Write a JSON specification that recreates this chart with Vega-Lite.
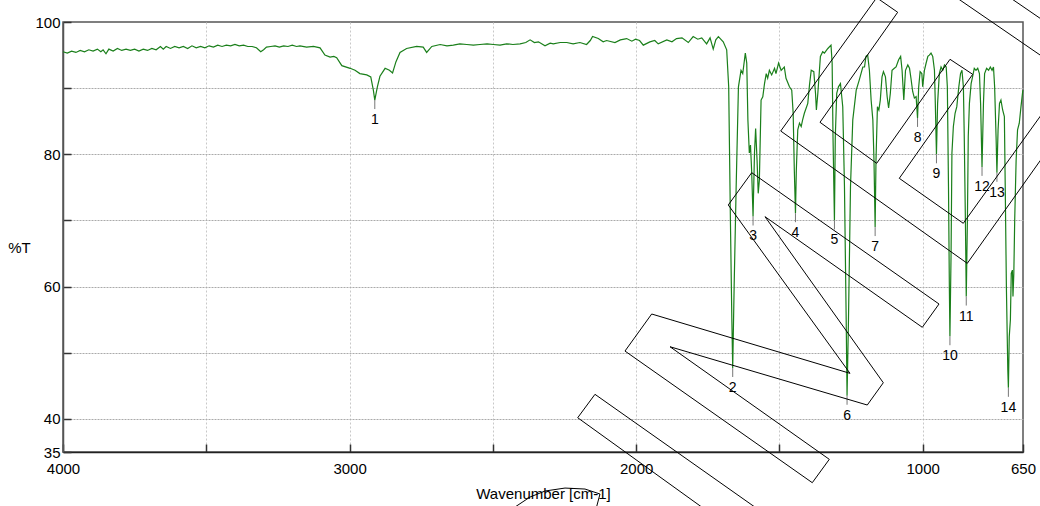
{
  "$schema": "https://vega.github.io/schema/vega-lite/v6.json",
  "width": 960,
  "height": 430,
  "autosize": {"type": "none"},
  "padding": {"left": 63, "top": 22, "right": 17, "bottom": 54},
  "background": "white",
  "config": {
    "view": {"stroke": "#555", "strokeWidth": 1.5},
    "font": "Liberation Sans"
  },
  "datasets": {
    "spec": [
      {"w":4000,"t":95.5},{"w":3985,"t":95.3},{"w":3970,"t":95.6},{"w":3955,"t":95.4},{"w":3940,"t":95.7},{"w":3925,"t":95.5},{"w":3910,"t":95.8},{"w":3895,"t":95.6},{"w":3880,"t":95.9},{"w":3868,"t":95.5},{"w":3860,"t":95.8},{"w":3850,"t":95.2},{"w":3840,"t":95.9},{"w":3825,"t":95.6},{"w":3810,"t":96.0},{"w":3795,"t":95.7},{"w":3780,"t":95.9},{"w":3765,"t":95.7},{"w":3750,"t":95.9},{"w":3735,"t":95.6},{"w":3720,"t":95.9},{"w":3705,"t":95.7},{"w":3690,"t":96.0},{"w":3675,"t":95.8},{"w":3660,"t":96.3},{"w":3650,"t":95.9},{"w":3640,"t":96.3},{"w":3625,"t":96.0},{"w":3610,"t":96.3},{"w":3595,"t":96.1},{"w":3580,"t":96.3},{"w":3565,"t":96.0},{"w":3550,"t":96.4},{"w":3535,"t":96.1},{"w":3520,"t":96.3},{"w":3505,"t":96.1},{"w":3490,"t":96.4},{"w":3475,"t":96.2},{"w":3460,"t":96.5},{"w":3445,"t":96.3},{"w":3430,"t":96.5},{"w":3415,"t":96.4},{"w":3400,"t":96.6},{"w":3385,"t":96.4},{"w":3370,"t":96.5},{"w":3355,"t":96.3},{"w":3340,"t":96.3},{"w":3325,"t":96.1},{"w":3310,"t":95.5},{"w":3300,"t":95.8},{"w":3290,"t":96.2},{"w":3275,"t":96.3},{"w":3260,"t":96.4},{"w":3245,"t":96.2},{"w":3230,"t":96.4},{"w":3215,"t":96.3},{"w":3200,"t":96.5},{"w":3185,"t":96.3},{"w":3173,"t":96.4},{"w":3150,"t":96.2},{"w":3126,"t":96.3},{"w":3103,"t":96.1},{"w":3086,"t":95.0},{"w":3068,"t":94.7},{"w":3055,"t":94.8},{"w":3045,"t":94.6},{"w":3027,"t":93.4},{"w":2998,"t":93.0},{"w":2981,"t":92.7},{"w":2964,"t":92.2},{"w":2940,"t":92.0},{"w":2926,"t":91.7},{"w":2917,"t":89.7},{"w":2912,"t":88.2},{"w":2903,"t":90.2},{"w":2894,"t":91.8},{"w":2876,"t":93.0},{"w":2861,"t":92.7},{"w":2850,"t":92.3},{"w":2838,"t":94.0},{"w":2824,"t":95.4},{"w":2801,"t":96.0},{"w":2766,"t":96.3},{"w":2743,"t":96.2},{"w":2731,"t":95.4},{"w":2713,"t":96.3},{"w":2684,"t":96.6},{"w":2660,"t":96.4},{"w":2638,"t":96.5},{"w":2615,"t":96.7},{"w":2591,"t":96.6},{"w":2568,"t":96.5},{"w":2545,"t":96.6},{"w":2520,"t":96.7},{"w":2498,"t":96.6},{"w":2475,"t":96.5},{"w":2452,"t":96.7},{"w":2430,"t":96.6},{"w":2405,"t":96.7},{"w":2385,"t":96.9},{"w":2370,"t":97.3},{"w":2355,"t":96.9},{"w":2341,"t":97.0},{"w":2318,"t":96.4},{"w":2300,"t":96.8},{"w":2289,"t":96.7},{"w":2265,"t":96.9},{"w":2242,"t":96.9},{"w":2220,"t":96.7},{"w":2196,"t":96.9},{"w":2173,"t":96.6},{"w":2160,"t":97.2},{"w":2152,"t":97.8},{"w":2132,"t":97.5},{"w":2115,"t":97.0},{"w":2103,"t":97.2},{"w":2074,"t":96.9},{"w":2055,"t":97.3},{"w":2033,"t":97.5},{"w":2015,"t":97.1},{"w":2002,"t":97.4},{"w":1988,"t":97.2},{"w":1975,"t":96.5},{"w":1952,"t":97.0},{"w":1935,"t":97.2},{"w":1923,"t":96.7},{"w":1893,"t":97.3},{"w":1875,"t":97.0},{"w":1859,"t":97.5},{"w":1840,"t":97.6},{"w":1818,"t":96.9},{"w":1801,"t":97.8},{"w":1785,"t":97.4},{"w":1771,"t":97.6},{"w":1754,"t":96.7},{"w":1742,"t":97.6},{"w":1731,"t":95.9},{"w":1722,"t":97.3},{"w":1713,"t":97.8},{"w":1696,"t":97.0},{"w":1684,"t":95.8},{"w":1677,"t":90.2},{"w":1671,"t":70},{"w":1666,"t":55},{"w":1663,"t":47.7},{"w":1658,"t":60},{"w":1651,"t":75},{"w":1643,"t":90.2},{"w":1634,"t":92.7},{"w":1628,"t":92.2},{"w":1619,"t":95.3},{"w":1614,"t":93.8},{"w":1610,"t":85.2},{"w":1605,"t":80.2},{"w":1601,"t":81.4},{"w":1597,"t":77.6},{"w":1592,"t":70.6},{"w":1587,"t":80.2},{"w":1583,"t":83.9},{"w":1578,"t":79.1},{"w":1574,"t":74.1},{"w":1570,"t":76.1},{"w":1564,"t":88.2},{"w":1558,"t":88.7},{"w":1552,"t":90.7},{"w":1546,"t":92.2},{"w":1541,"t":91.5},{"w":1535,"t":92.7},{"w":1527,"t":92.0},{"w":1517,"t":93.0},{"w":1512,"t":92.2},{"w":1503,"t":93.8},{"w":1494,"t":92.7},{"w":1483,"t":93.2},{"w":1477,"t":91.5},{"w":1465,"t":90.2},{"w":1457,"t":89.7},{"w":1452,"t":86.2},{"w":1448,"t":77.6},{"w":1444,"t":71.1},{"w":1441,"t":77.6},{"w":1436,"t":83.7},{"w":1430,"t":84.7},{"w":1424,"t":84.2},{"w":1419,"t":85.2},{"w":1413,"t":86.2},{"w":1401,"t":87.7},{"w":1395,"t":90.5},{"w":1389,"t":92.7},{"w":1380,"t":92.5},{"w":1374,"t":89.2},{"w":1371,"t":86.7},{"w":1366,"t":89.2},{"w":1357,"t":94.8},{"w":1349,"t":95.5},{"w":1343,"t":95.3},{"w":1331,"t":96.0},{"w":1320,"t":96.5},{"w":1316,"t":93.8},{"w":1313,"t":82.7},{"w":1308,"t":70.0},{"w":1305,"t":82.7},{"w":1300,"t":89.2},{"w":1294,"t":90.2},{"w":1287,"t":90.7},{"w":1279,"t":87.2},{"w":1273,"t":75.1},{"w":1267,"t":55},{"w":1264,"t":43.5},{"w":1259,"t":55},{"w":1252,"t":75.1},{"w":1244,"t":85.2},{"w":1232,"t":89.7},{"w":1221,"t":91.3},{"w":1209,"t":93.2},{"w":1203,"t":93.2},{"w":1198,"t":94.8},{"w":1192,"t":95.0},{"w":1186,"t":92.7},{"w":1180,"t":88.2},{"w":1174,"t":85.2},{"w":1170,"t":79.1},{"w":1166,"t":69.0},{"w":1163,"t":79.1},{"w":1158,"t":87.2},{"w":1153,"t":86.7},{"w":1148,"t":88.2},{"w":1142,"t":91.7},{"w":1137,"t":92.5},{"w":1130,"t":91.7},{"w":1124,"t":88.7},{"w":1119,"t":87.0},{"w":1113,"t":89.2},{"w":1107,"t":92.7},{"w":1099,"t":93.0},{"w":1093,"t":93.2},{"w":1084,"t":94.3},{"w":1077,"t":94.8},{"w":1072,"t":92.7},{"w":1066,"t":88.2},{"w":1060,"t":92.7},{"w":1052,"t":93.5},{"w":1046,"t":93.0},{"w":1041,"t":91.5},{"w":1035,"t":89.5},{"w":1029,"t":88.5},{"w":1023,"t":88.7},{"w":1018,"t":85.5},{"w":1014,"t":90.2},{"w":1009,"t":92.5},{"w":1003,"t":92.2},{"w":1000,"t":90.2},{"w":994,"t":92.7},{"w":988,"t":93.8},{"w":982,"t":94.8},{"w":977,"t":95.0},{"w":971,"t":95.3},{"w":965,"t":94.8},{"w":959,"t":92.7},{"w":956,"t":87.7},{"w":952,"t":80.0},{"w":948,"t":87.7},{"w":942,"t":92.2},{"w":936,"t":93.2},{"w":930,"t":92.7},{"w":924,"t":93.5},{"w":918,"t":93.2},{"w":914,"t":90.2},{"w":910,"t":75.1},{"w":907,"t":60},{"w":905,"t":52.5},{"w":901,"t":65},{"w":898,"t":80.2},{"w":893,"t":84.2},{"w":887,"t":86.2},{"w":881,"t":87.2},{"w":874,"t":90.2},{"w":868,"t":92.2},{"w":863,"t":92.7},{"w":858,"t":90.2},{"w":855,"t":82.7},{"w":851,"t":70},{"w":848,"t":58.5},{"w":844,"t":70},{"w":841,"t":82.7},{"w":837,"t":87.7},{"w":831,"t":90.7},{"w":826,"t":91.7},{"w":820,"t":93.0},{"w":814,"t":92.7},{"w":808,"t":93.0},{"w":802,"t":92.2},{"w":798,"t":87.7},{"w":793,"t":78.1},{"w":788,"t":87.7},{"w":784,"t":92.2},{"w":777,"t":93.0},{"w":770,"t":92.7},{"w":764,"t":93.2},{"w":758,"t":92.7},{"w":753,"t":93.2},{"w":749,"t":90.2},{"w":744,"t":82.7},{"w":741,"t":77.2},{"w":737,"t":83.7},{"w":732,"t":87.7},{"w":727,"t":88.2},{"w":721,"t":86.7},{"w":715,"t":85.7},{"w":712,"t":75.1},{"w":708,"t":60},{"w":703,"t":47.4},{"w":701,"t":44.7},{"w":698,"t":52.4},{"w":694,"t":55},{"w":691,"t":62},{"w":687,"t":62.5},{"w":685,"t":58.5},{"w":682,"t":62},{"w":679,"t":70},{"w":674,"t":79.1},{"w":669,"t":83.7},{"w":663,"t":84.7},{"w":657,"t":87.2},{"w":651,"t":89.5},{"w":650,"t":89.7}
    ],
    "peaks": [
      {"w":2912,"t":88.2,"n":"1"},{"w":1663,"t":47.7,"n":"2"},{"w":1592,"t":70.6,"n":"3"},{"w":1444,"t":71.1,"n":"4"},{"w":1308,"t":70.0,"n":"5"},{"w":1264,"t":43.5,"n":"6"},{"w":1166,"t":69.0,"n":"7"},{"w":1018,"t":85.5,"n":"8"},{"w":952,"t":80.0,"n":"9"},{"w":905,"t":52.5,"n":"10"},{"w":848,"t":58.5,"n":"11"},{"w":793,"t":78.1,"n":"12"},{"w":741,"t":77.2,"n":"13"},{"w":701,"t":44.7,"n":"14"}
    ],
    "shapes": [
      {"s":1,"i":0,"w":1945.7,"t":55.86},{"s":1,"i":1,"w":1253.7,"t":46.89},{"s":1,"i":2,"w":1678.4,"t":72.34},{"s":1,"i":3,"w":1596.7,"t":77.22},{"s":1,"i":4,"w":943.1,"t":57.37},{"s":1,"i":5,"w":1001.4,"t":53.85},{"s":1,"i":6,"w":1550.3,"t":70.57},{"s":1,"i":7,"w":1137.5,"t":45.47},{"s":1,"i":8,"w":1193.4,"t":42.1},{"s":1,"i":9,"w":1881.8,"t":50.91},{"s":1,"i":10,"w":1325.9,"t":33.89},{"s":1,"i":11,"w":1385.3,"t":30.36},{"s":1,"i":12,"w":2038.9,"t":50.26},{"s":1,"i":13,"w":1945.7,"t":55.86},
      {"s":2,"i":0,"w":1498,"t":24.0},{"s":2,"i":1,"w":2143.6,"t":43.72},{"s":2,"i":2,"w":2203.9,"t":40.18},{"s":2,"i":3,"w":1672.5,"t":23.6},
      {"s":3,"i":0,"w":573.3,"t":80.06},{"s":3,"i":1,"w":844.4,"t":63.52},{"s":3,"i":2,"w":1495.5,"t":83.52},{"s":3,"i":3,"w":1160.6,"t":103.67},{"s":3,"i":4,"w":1087.3,"t":101.47},{"s":3,"i":5,"w":1358.4,"t":84.84},{"s":3,"i":6,"w":1160.6,"t":78.64},{"s":3,"i":7,"w":904.7,"t":94.36},{"s":3,"i":8,"w":825.6,"t":92.09},{"s":3,"i":9,"w":1081.7,"t":76.37},{"s":3,"i":10,"w":858.4,"t":69.57},{"s":3,"i":11,"w":573.3,"t":86.74},
      {"s":4,"i":0,"w":887.3,"t":103.84},{"s":4,"i":1,"w":573.3,"t":94.5},
      {"s":5,"i":0,"w":702.4,"t":103.89},{"s":5,"i":1,"w":573.3,"t":100.05},
      {"s":6,"i":0,"w":2433.2,"t":26.38},{"s":6,"i":1,"w":2370.4,"t":28.19},{"s":6,"i":2,"w":2318,"t":29.1},{"s":6,"i":3,"w":2248.2,"t":29.55},{"s":6,"i":4,"w":2178.4,"t":29.4},{"s":6,"i":5,"w":2126.1,"t":28.65},{"s":6,"i":6,"w":2140,"t":26.38}
    ]
  },
  "encoding": {
    "x": {
      "field": "w", "type": "quantitative",
      "scale": {"domain": [650, 4000], "reverse": true, "nice": false, "zero": false},
      "axis": {
        "title": "Wavenumber [cm-1]",
        "values": [4000, 3500, 3000, 2500, 2000, 1500, 1000, 650],
        "labelExpr": "(datum.value == 3500 || datum.value == 2500 || datum.value == 1500) ? '' : datum.label",
        "format": "d",
        "labelFont": "Liberation Sans", "labelFontSize": 15, "labelColor": "black",
        "labelFlush": false, "labelOverlap": false, "labelPadding": 17,
        "tickSize": -8, "tickColor": "#333", "tickWidth": 1.5,
        "domainColor": "#222", "domainWidth": 1.5,
        "grid": true, "gridColor": "#c8c8c8", "gridDash": [2, 2], "gridWidth": 1,
        "gridOpacity": {"condition": {"test": "datum.value == 4000 || datum.value == 650", "value": 0}, "value": 1},
        "titleFont": "Liberation Sans", "titleFontSize": 15, "titleFontWeight": "normal", "titleColor": "black",
        "titleY": 41, "titleBaseline": "middle"
      }
    },
    "y": {
      "field": "t", "type": "quantitative",
      "scale": {"domain": [35, 100], "nice": false, "zero": false},
      "axis": {
        "title": "%T",
        "values": [35, 40, 50, 60, 70, 80, 90, 100],
        "labelExpr": "(datum.value == 50 || datum.value == 70 || datum.value == 90) ? '' : datum.label",
        "labelFont": "Liberation Sans", "labelFontSize": 15, "labelColor": "black",
        "labelFlush": false, "labelOverlap": false, "labelPadding": 11,
        "tickSize": -8, "tickColor": "#333", "tickWidth": 1.5,
        "domainColor": "#555", "domainWidth": 1.5,
        "grid": true, "gridColor": "#aaaaaa", "gridDash": [2, 1], "gridWidth": 1,
        "gridOpacity": {"condition": {"test": "datum.value == 35 || datum.value == 100", "value": 0}, "value": 1},
        "titleFont": "Liberation Sans", "titleFontSize": 15, "titleFontWeight": "normal", "titleColor": "black",
        "titleAngle": 0, "titleX": -44, "titleY": 225, "titleAlign": "center", "titleBaseline": "middle"
      }
    }
  },
  "layer": [
    {
      "data": {"name": "spec"},
      "mark": {"type": "line", "color": "#1a7f1a", "strokeWidth": 1.2}
    },
    {
      "data": {"name": "peaks"},
      "mark": {"type": "rule", "color": "#777", "strokeWidth": 1, "y2Offset": 9},
      "encoding": {"y2": {"field": "t"}}
    },
    {
      "data": {"name": "peaks"},
      "mark": {"type": "text", "baseline": "middle", "align": "center", "dy": 20, "font": "Liberation Sans", "fontSize": 14, "color": "black"},
      "encoding": {"text": {"field": "n"}}
    },
    {
      "data": {"name": "shapes"},
      "mark": {"type": "line", "color": "black", "strokeWidth": 1, "clip": false},
      "encoding": {"detail": {"field": "s"}, "order": {"field": "i"}}
    }
  ]
}
